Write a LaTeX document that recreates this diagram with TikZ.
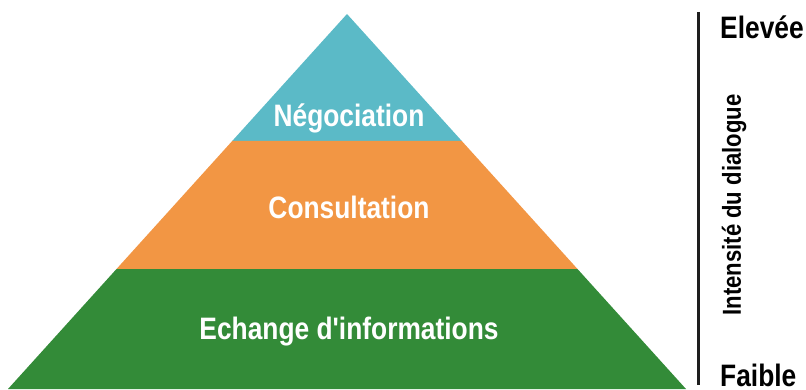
\documentclass[tikz,border=0pt]{standalone}
\usepackage{fontspec}
\setmainfont{Liberation Sans}[FakeStretch=0.85,Ligatures=TeXOff]
\definecolor{tealc}{RGB}{91,186,199}
\definecolor{orangec}{RGB}{242,150,68}
\definecolor{greenc}{RGB}{51,139,56}
\definecolor{axisc}{RGB}{30,30,30}
\tikzset{
  layerlabel/.style={text=white,font=\bfseries\fontsize{31}{36}\selectfont,inner sep=0pt},
  sidelabel/.style={text=black,font=\bfseries\fontsize{31}{36}\selectfont,inner sep=0pt,anchor=west},
  axislabel/.style={text=black,font=\bfseries\fontsize{26}{30}\selectfont,inner sep=0pt,rotate=90}
}
\begin{document}
\begin{tikzpicture}[x=1pt,y=-1pt]
\useasboundingbox (0,0) rectangle (806,390);
% pyramid
\coordinate (apex) at (347,14);
\coordinate (l1) at (232.2,141);
\coordinate (r1) at (461.8,141);
\coordinate (l2) at (116.5,269);
\coordinate (r2) at (577.5,269);
\coordinate (bl) at (8,389);
\coordinate (br) at (686,389);
\fill[tealc] (apex) -- (r1) -- (l1) -- cycle;
\fill[orangec] (l1) -- (r1) -- (r2) -- (l2) -- cycle;
\fill[greenc] (l2) -- (r2) -- (br) -- (bl) -- cycle;
\node[layerlabel] (neg) at (349,118) {Négociation};
\node[layerlabel] (con) at (349,207) {Consultation};
\node[layerlabel] (ech) at (349,332) {Echange d'informations};
% axis
\coordinate (atop) at (698,12);
\coordinate (abot) at (698,385);
\draw[axisc,line width=3pt] (atop) -- (abot);
\node[sidelabel] (hi) at (720,27) {Elevée};
\node[sidelabel] (lo) at (720,375) {Faible};
\node[axislabel] (ax) at (734,205) {Intensité du dialogue};
\end{tikzpicture}
\end{document}
